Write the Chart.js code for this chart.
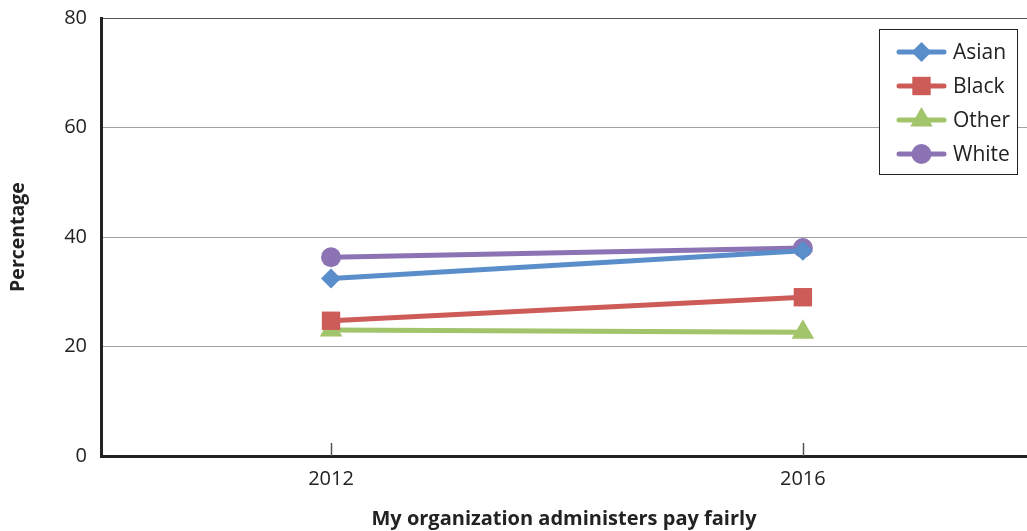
<!DOCTYPE html>
<html>
<head>
<meta charset="utf-8">
<script src="https://cdn.jsdelivr.net/npm/chart.js@4/dist/chart.umd.min.js"></script>
<style>
  html, body { margin: 0; padding: 0; background: #fff; overflow: hidden; }
  #wrap { width: 1027px; height: 531px; }
</style>
</head>
<body>
<div id="wrap"><canvas id="payChart" width="1027" height="531"></canvas></div>
<script>
const years = [2012, 2016];
const groups = ['Asian', 'Black', 'Other', 'White'];
const asian = [32.4, 37.5];
const black = [24.7, 29.0];
const other = [23.0, 22.6];
const white = [36.3, 38.0];
const yTicks = [0, 20, 40, 60, 80];

const colors = ['#5a8ecb', '#cd5c58', '#a2c46a', '#8c73b3'];
const markers = ['rectRot', 'rect', 'triangle', 'circle'];
const sizes = [10, 13, 13, 10];
const series = [asian, black, other, white];

const FONT = "'Open Sans', 'Noto Sans', sans-serif";

let datasets = groups.map((name, i) => ({
    label: name,
    data: years.map((yr, j) => ({ x: yr, y: series[i][j] })),
    borderColor: colors[i],
    backgroundColor: colors[i],
    borderWidth: 5,
    borderCapStyle: 'round',
    pointStyle: markers[i],
    pointRadius: sizes[i],
    pointHoverRadius: sizes[i],
    pointBorderWidth: 0,
    tension: 0
}));

// little upward tick marks on the x axis at each year
const xTickMarks = {
    id: 'xTickMarks',
    afterDraw(chart) {
        const ctx = chart.ctx;
        const xs = chart.scales.x;
        ctx.save();
        ctx.strokeStyle = '#555';
        ctx.lineWidth = 1.5;
        years.forEach(yr => {
            const px = Math.round(xs.getPixelForValue(yr)) + 0.5;
            ctx.beginPath();
            ctx.moveTo(px, xs.top - 13);
            ctx.lineTo(px, xs.top);
            ctx.stroke();
        });
        ctx.restore();
    }
};

// boxed legend inside the plot, top right
const boxLegend = {
    id: 'boxLegend',
    afterDraw(chart) {
        const ctx = chart.ctx;
        const left = 879.5, top = 29.5, w = 138, h = 145;
        ctx.save();
        ctx.fillStyle = '#fff';
        ctx.fillRect(left, top, w, h);
        ctx.strokeStyle = '#222';
        ctx.lineWidth = 1;
        ctx.strokeRect(left, top, w, h);
        groups.forEach((name, i) => {
            const cy = 52 + i * 34;
            ctx.strokeStyle = colors[i];
            ctx.lineWidth = 5;
            ctx.lineCap = 'round';
            ctx.beginPath();
            ctx.moveTo(899, cy);
            ctx.lineTo(944, cy);
            ctx.stroke();
            ctx.fillStyle = colors[i];
            Chart.helpers.drawPoint(ctx, {
                pointStyle: markers[i], radius: sizes[i], rotation: 0, borderWidth: 0
            }, 921.5, cy);
            ctx.fillStyle = '#222';
            ctx.font = '21px ' + FONT;
            ctx.textBaseline = 'middle';
            ctx.textAlign = 'left';
            ctx.fillText(name, 953, cy + 1);
        });
        ctx.restore();
    }
};

new Chart(document.getElementById('payChart'), {
    type: 'line',
    data: { datasets: datasets },
    plugins: [xTickMarks, boxLegend],
    options: {
        responsive: false,
        animation: false,
        layout: { autoPadding: false, padding: { top: 18, right: 0, left: 0, bottom: 0 } },
        plugins: {
            legend: { display: false },
            tooltip: { enabled: false }
        },
        scales: {
            x: {
                type: 'linear',
                min: 2010.05,
                max: 2017.9,
                afterBuildTicks: (scale) => { scale.ticks = years.map(v => ({ value: v })); },
                afterFit: (scale) => {
                    scale.height = 75;
                    scale.paddingLeft = 0;
                    scale.paddingRight = 0;
                },
                grid: { display: false, drawTicks: false },
                border: { color: '#222', width: 3 },
                ticks: {
                    color: '#222',
                    padding: 11,
                    font: { family: FONT, size: 20 },
                    callback: (v) => String(v)
                },
                title: {
                    display: true,
                    text: 'My organization administers pay fairly',
                    color: '#222',
                    padding: { top: 6, bottom: 0 },
                    font: { family: FONT, size: 20, weight: 'bold' }
                }
            },
            y: {
                min: 0,
                max: 80,
                afterBuildTicks: (scale) => { scale.ticks = yTicks.map(v => ({ value: v })); },
                afterFit: (scale) => {
                    scale.width = 101;
                    scale.paddingTop = 0;
                    scale.paddingBottom = 0;
                },
                grid: {
                    drawTicks: false,
                    color: (c) => c.tick && c.tick.value === 80 ? '#555' : '#a0a0a0',
                    lineWidth: 1
                },
                border: { color: '#222', width: 3 },
                ticks: {
                    color: '#222',
                    padding: 14,
                    font: { family: FONT, size: 20 }
                },
                title: {
                    display: true,
                    text: 'Percentage',
                    color: '#222',
                    padding: { top: 7, bottom: 0 },
                    font: { family: FONT, size: 19.5, weight: 'bold' }
                }
            }
        }
    }
});
</script>
</body>
</html>
